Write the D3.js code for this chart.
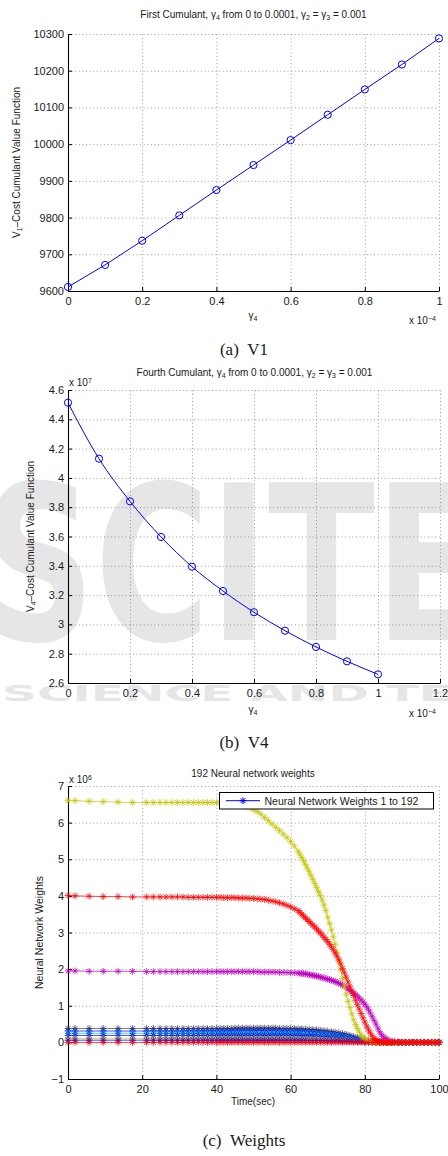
<!DOCTYPE html>
<html><head><meta charset="utf-8">
<script src="https://cdn.jsdelivr.net/npm/d3@7"></script>
<style>
body{margin:0;background:#fff;}
text{font-family:"Liberation Sans",Arial,sans-serif;fill:#1a1a1a;}
.cap{font-family:"Liberation Serif","Times New Roman",serif;}
</style></head><body>
<svg id="c" width="448" height="1156"></svg>
<script>
// ---------- DATA ----------
const gamma4 = [0,0.1,0.2,0.3,0.4,0.5,0.6,0.7,0.8,0.9,1.0];            // x 10^-4
const v1Values = [9611,9671,9737,9806,9875,9943,10011,10080,10149,10217,10288];
const v4Values = [4.513,4.131,3.84,3.597,3.394,3.228,3.083,2.957,2.846,2.748,2.659]; // x 10^7
const v1XTicks = [0,0.2,0.4,0.6,0.8,1];
const v1YTicks = [9600,9700,9800,9900,10000,10100,10200,10300];
const v4XTicks = [0,0.2,0.4,0.6,0.8,1,1.2];
const v4YTicks = [2.6,2.8,3,3.2,3.4,3.6,3.8,4,4.2,4.4,4.6];
const wXTicks = [0,20,40,60,80,100];
const wYTicks = [-1,0,1,2,3,4,5,6,7];

const timeFine = [0,1.9,5.7,9.5,13.5,17.4,21.2,23,24.8,26.4,28,29.5,31,32.4,33.8,35.1,36.4,37.6,38.8,
40,41,42,43,44,45,46,47,48,49,50,51,52,53,54,55,56,57,58,59,60,61,
62,62.5,63,63.5,64,64.5,65,65.5,66,66.5,67,67.5,68,68.5,69,69.5,70,70.5,71,71.5,72,72.5,73,73.5,74,74.5,75,75.5,76,76.5,77,77.5,78,78.5,79,79.5,80,80.5,81,81.5,82,82.5,83,83.5,84,84.5,85,85.5,86,86.5,87,87.5,88,
89,90,91,92,93,94,95,96,97,98,99,100];
const timeCoarse = [0,1.9,5.7,9.5,13.5,17.4,21.2,23,24.8,26.4,28,29.5,31,32.4,33.8,35.1,36.4,37.6,38.8,
40,41,42,43,44,45,46,47,48,49,50,51,52,53,54,55,56,57,58,59,
60,61,62,63,64,65,66,67,68,69,70,71,72,73,74,75,76,77,78,79,80,81,82,83,84,85,
86,87,88,89,90,91,92,93,94,95,96,97,98,99,100];

// large weights (x 10^6), on timeFine
const wYellow = [6.60,6.60,6.58,6.57,6.56,6.55,6.55,6.55,6.55,6.55,6.55,6.55,6.55,6.55,6.55,6.55,6.55,6.55,6.55,
6.55,6.55,6.55,6.54,6.54,6.53,6.51,6.49,6.45,6.41,6.36,6.30,6.23,6.14,6.05,5.96,5.87,5.78,5.69,5.59,5.48,5.36,
5.22,5.14,5.05,4.96,4.86,4.76,4.66,4.56,4.45,4.34,4.23,4.12,4.01,3.89,3.75,3.60,3.42,3.25,3.07,2.88,2.68,2.46,2.22,1.98,1.74,1.52,1.31,1.12,0.95,0.78,0.62,0.49,0.38,0.28,0.20,0.14,0.09,0.06,0.04,0.02,0.01,0.01,0,0,0,0,0,0,0,0,0,0,0,
0,0,0,0,0,0,0,0,0,0,0,0];
const wRed = [4.01,4.00,3.99,3.98,3.98,3.97,3.97,3.97,3.97,3.97,3.97,3.97,3.97,3.96,3.96,3.96,3.96,3.96,3.96,
3.96,3.96,3.95,3.95,3.95,3.95,3.94,3.94,3.94,3.93,3.93,3.92,3.91,3.90,3.88,3.86,3.84,3.81,3.78,3.74,3.70,3.65,
3.60,3.55,3.50,3.45,3.40,3.35,3.30,3.25,3.20,3.15,
3.10,3.04,2.99,2.93,2.87,2.81,2.75,2.68,2.61,2.53,
2.44,2.35,2.25,2.14,2.02,1.90,1.78,1.65,1.53,1.40,
1.28,1.15,1.03,0.91,0.79,0.67,0.55,0.44,0.34,0.25,
0.17,0.11,0.07,0.04,0.02,0.01,0,0,0,0,0,0,0,
0,0,0,0,0,0,0,0,0,0,0,0];
const wMagenta = [1.95,1.95,1.94,1.94,1.94,1.94,1.93,1.93,1.93,1.93,1.93,1.93,1.93,1.93,1.93,1.93,1.93,1.93,1.93,
1.93,1.93,1.93,1.93,1.93,1.93,1.93,1.93,1.93,1.93,1.93,1.93,1.92,1.92,1.92,1.92,1.92,1.91,1.91,1.91,1.90,1.90,
1.89,1.89,1.88,1.88,1.87,1.86,1.85,1.84,1.83,1.82,1.81,1.80,1.78,1.77,1.76,1.74,1.73,1.71,1.70,1.68,
1.66,1.64,1.62,1.59,1.56,1.53,1.50,1.46,1.42,1.38,1.34,1.30,1.26,1.21,1.16,1.10,1.04,0.97,0.89,0.80,
0.70,0.60,0.50,0.39,0.29,0.21,0.15,0.11,0.08,0.05,0.03,0.02,0.01,
0.01,0,0,0,0,0,0,0,0,0,0,0];

// small weights (x 10^6), on timeCoarse
const wGrey = [0.38,0.38,0.38,0.38,0.38,0.38,0.38,0.38,0.38,0.38,0.38,0.38,0.38,0.38,0.38,0.38,0.38,0.38,0.38,
0.38,0.38,0.38,0.38,0.38,0.39,0.39,0.39,0.39,0.39,0.39,0.39,0.39,0.39,0.39,0.39,0.39,0.38,0.38,0.38,
0.38,0.38,0.37,0.37,0.36,0.36,0.35,0.34,0.33,0.32,0.31,0.29,0.28,0.26,0.24,0.22,0.19,0.16,0.13,0.10,0.07,0.05,0.03,0.02,0.01,0.01,
0,0,0,0,0,0,0,0,0,0,0,0,0,0,0];
const wBlue1 = [0.31,0.31,0.31,0.31,0.31,0.31,0.31,0.31,0.31,0.31,0.31,0.31,0.31,0.31,0.31,0.31,0.31,0.31,0.31,
0.31,0.31,0.31,0.31,0.31,0.32,0.32,0.32,0.32,0.32,0.32,0.32,0.32,0.32,0.32,0.32,0.32,0.31,0.31,0.31,
0.31,0.31,0.31,0.30,0.30,0.29,0.29,0.28,0.27,0.26,0.25,0.24,0.22,0.21,0.19,0.17,0.15,0.12,0.10,0.07,0.05,0.03,0.02,0.01,0.01,0,
0,0,0,0,0,0,0,0,0,0,0,0,0,0,0];
const wCyan = [0.25,0.25,0.25,0.25,0.25,0.25,0.25,0.25,0.25,0.25,0.25,0.25,0.25,0.25,0.25,0.25,0.25,0.25,0.25,
0.25,0.25,0.25,0.25,0.25,0.25,0.25,0.25,0.25,0.25,0.25,0.25,0.25,0.25,0.25,0.25,0.25,0.25,0.25,0.25,
0.25,0.25,0.25,0.24,0.24,0.23,0.23,0.22,0.22,0.21,0.20,0.19,0.18,0.17,0.15,0.14,0.12,0.10,0.08,0.06,0.04,0.03,0.02,0.01,0.01,0,
0,0,0,0,0,0,0,0,0,0,0,0,0,0,0];
const wBlue2 = [0.19,0.19,0.19,0.19,0.19,0.19,0.19,0.19,0.19,0.19,0.19,0.19,0.19,0.19,0.19,0.19,0.19,0.19,0.19,
0.19,0.19,0.19,0.19,0.19,0.19,0.19,0.19,0.19,0.19,0.19,0.19,0.19,0.19,0.19,0.19,0.19,0.19,0.19,0.19,
0.19,0.19,0.19,0.18,0.18,0.18,0.17,0.17,0.16,0.16,0.15,0.14,0.14,0.13,0.12,0.10,0.09,0.08,0.06,0.05,0.03,0.02,0.01,0.01,0,0,
0,0,0,0,0,0,0,0,0,0,0,0,0,0,0];
const wYellowSmall = [0.11,0.11,0.11,0.11,0.11,0.11,0.11,0.11,0.11,0.11,0.11,0.11,0.11,0.11,0.11,0.11,0.11,0.11,0.11,
0.11,0.11,0.11,0.11,0.11,0.11,0.11,0.11,0.11,0.11,0.11,0.11,0.11,0.11,0.11,0.11,0.11,0.11,0.11,0.11,
0.11,0.11,0.10,0.10,0.10,0.10,0.09,0.09,0.09,0.08,0.08,0.08,0.07,0.07,0.06,0.06,0.05,0.04,0.03,0.03,0.02,0.01,0.01,0,0,0,
0,0,0,0,0,0,0,0,0,0,0,0,0,0,0];
const wBlue3 = [0.06,0.06,0.06,0.06,0.06,0.06,0.06,0.06,0.06,0.06,0.06,0.06,0.06,0.06,0.06,0.06,0.06,0.06,0.06,
0.06,0.06,0.06,0.06,0.06,0.06,0.06,0.06,0.06,0.06,0.06,0.06,0.06,0.06,0.06,0.06,0.06,0.06,0.06,0.06,
0.06,0.06,0.06,0.06,0.06,0.05,0.05,0.05,0.05,0.05,0.04,0.04,0.04,0.04,0.03,0.03,0.03,0.02,0.02,0.02,0.01,0.01,0.01,0,0,0,
0,0,0,0,0,0,0,0,0,0,0,0,0,0,0];
const wRedZero = [0,0,0,0,0,0,0,0,0,0,0,0,0,0,0,0,0,0,0,
0,0,0,0,0,0,0,0,0,0,0,0,0,0,0,0,0,0,0,0,
0,0,0,0,0,0,0,0,0,0,0,0,0,0,0,0,0,0,0,0,0,0,0,0,0,0,
0,0,0,0,0,0,0,0,0,0,0,0,0,0,0];

const weightSeries = [
  {t: timeCoarse, v: wGrey, color: "#454545"},
  {t: timeCoarse, v: wBlue1, color: "#0000ff"},
  {t: timeCoarse, v: wCyan, color: "#00bfbf"},
  {t: timeCoarse, v: wBlue2, color: "#0000ff"},
  {t: timeCoarse, v: wYellowSmall, color: "#c4c400"},
  {t: timeCoarse, v: wBlue3, color: "#0000ff"},
  {t: timeFine, v: wMagenta, color: "#bf00bf"},
  {t: timeFine, v: wYellow, color: "#c4c400"},
  {t: timeFine, v: wRed, color: "#ff0000"},
  {t: timeCoarse, v: wRedZero, color: "#ff0000"}
];

// ---------- DRAW ----------
const svg = d3.select("#c");
const fmt = d3.format("~g");

// watermark (publisher logo behind panel b)
const wm = svg.append("g");
wm.append("text").text("SCITE").attr("x",-18).attr("y",640)
  .style("font-family","DejaVu Sans").style("font-weight","bold").style("font-size","215px")
  .style("fill","#e6e6e6").attr("textLength",500).attr("lengthAdjust","spacingAndGlyphs");
wm.append("text").text("SCIENCE AND TE").attr("x",2).attr("y",701)
  .style("font-family","DejaVu Sans").style("font-weight","bold").style("font-size","22px")
  .style("fill","#e6e6e6").attr("textLength",450).attr("lengthAdjust","spacingAndGlyphs");

function starPath(r){const k=r*0.72;return `M${-r},0L${r},0M0,${-r}L0,${r}M${-k},${-k}L${k},${k}M${-k},${k}L${k},${-k}`;}

function panel(o){
  const g = svg.append("g");
  const x = d3.scaleLinear().domain(o.xd).range([o.x0,o.x1]);
  const y = d3.scaleLinear().domain(o.yd).range([o.y1,o.y0]);
  const gridStyle = s => s.selectAll("line").attr("stroke","#707070").attr("stroke-width",0.7).attr("stroke-dasharray","1,2.6");
  const gx = g.append("g").attr("transform",`translate(0,${o.y1})`)
    .call(d3.axisBottom(x).tickValues(o.xt.filter(d=>d!==o.xd[0])).tickSize(-(o.y1-o.y0)).tickFormat(""));
  gx.select(".domain").remove(); gridStyle(gx);
  const gy = g.append("g").attr("transform",`translate(${o.x0},0)`)
    .call(d3.axisLeft(y).tickValues(o.yt.filter(d=>d!==o.yd[0])).tickSize(-(o.x1-o.x0)).tickFormat(""));
  gy.select(".domain").remove(); gridStyle(gy);
  const ax = g.append("g").attr("transform",`translate(0,${o.y1})`)
    .call(d3.axisBottom(x).tickValues(o.xt).tickFormat(fmt).tickSizeInner(-4).tickSizeOuter(0).tickPadding(6));
  const ay = g.append("g").attr("transform",`translate(${o.x0},0)`)
    .call(d3.axisLeft(y).tickValues(o.yt).tickFormat(fmt).tickSizeInner(-4).tickSizeOuter(0).tickPadding(4));
  [ax,ay].forEach(a=>{
    a.select(".domain").attr("stroke","#000").attr("stroke-width",1.1);
    a.selectAll(".tick line").attr("stroke","#000");
    a.selectAll(".tick text").style("font-family","Liberation Sans, Arial, sans-serif").style("font-size","11px").attr("fill","#1a1a1a");
  });
  return {g,x,y};
}

function sub(textSel, parts){
  parts.forEach(p=>{
    const ts = textSel.append("tspan").text(p[0]);
    if(p[1]==="sub") ts.attr("baseline-shift","-30%").style("font-size","7px");
    if(p[1]==="sup") ts.attr("baseline-shift","45%").style("font-size","7px");
  });
}

// ---- Panel 1 ----
const p1 = panel({xd:[0,1],yd:[9600,10300],x0:68,x1:439,y0:34,y1:291,xt:v1XTicks,yt:v1YTicks});
p1.g.append("path").datum(gamma4.map((d,i)=>[d,v1Values[i]]))
  .attr("d",d3.line().x(d=>p1.x(d[0])).y(d=>p1.y(d[1]))).attr("fill","none").attr("stroke","#0000ff").attr("stroke-width",1);
p1.g.selectAll("circle.m").data(gamma4.map((d,i)=>[d,v1Values[i]])).join("circle")
  .attr("cx",d=>p1.x(d[0])).attr("cy",d=>p1.y(d[1])).attr("r",3.6).attr("fill","none").attr("stroke","#0000ff").attr("stroke-width",1);
sub(svg.append("text").attr("x",253.5).attr("y",18).attr("text-anchor","middle").style("font-size","10px"),
  [["First Cumulant, γ"],["4","sub"],[" from 0 to 0.0001, γ"],["2","sub"],[" = γ"],["3","sub"],[" = 0.001"]]);
sub(svg.append("text").attr("transform","translate(20,162.5) rotate(-90)").attr("text-anchor","middle").style("font-size","10px"),
  [["V"],["1","sub"],["–Cost Cumulant Value Function"]]);
sub(svg.append("text").attr("x",253).attr("y",319).attr("text-anchor","middle").style("font-size","10px"),[["γ"],["4","sub"]]);
sub(svg.append("text").attr("x",409).attr("y",324).style("font-size","10px"),[["x 10"],["−4","sup"]]);
svg.append("text").attr("class","cap").attr("x",244).attr("y",355).attr("text-anchor","middle").style("font-size","17px").text("(a)\u00A0\u00A0V1");

// ---- Panel 2 ----
const p2 = panel({xd:[0,1.2],yd:[2.6,4.6],x0:68,x1:440,y0:390,y1:683,xt:v4XTicks,yt:v4YTicks});
p2.g.append("path").datum(gamma4.map((d,i)=>[d,v4Values[i]]))
  .attr("d",d3.line().curve(d3.curveMonotoneX).x(d=>p2.x(d[0])).y(d=>p2.y(d[1]))).attr("fill","none").attr("stroke","#0000ff").attr("stroke-width",1);
p2.g.selectAll("circle.m").data(gamma4.map((d,i)=>[d,v4Values[i]])).join("circle")
  .attr("cx",d=>p2.x(d[0])).attr("cy",d=>p2.y(d[1])).attr("r",3.6).attr("fill","none").attr("stroke","#0000ff").attr("stroke-width",1);
sub(svg.append("text").attr("x",254.5).attr("y",376).attr("text-anchor","middle").style("font-size","10px"),
  [["Fourth Cumulant, γ"],["4","sub"],[" from 0 to 0.0001, γ"],["2","sub"],[" = γ"],["3","sub"],[" = 0.001"]]);
sub(svg.append("text").attr("x",69).attr("y",386).style("font-size","10px"),[["x 10"],["7","sup"]]);
sub(svg.append("text").attr("transform","translate(34,536.5) rotate(-90)").attr("text-anchor","middle").style("font-size","10px"),
  [["V"],["4","sub"],["–Cost Cumulant Value Function"]]);
sub(svg.append("text").attr("x",253).attr("y",713).attr("text-anchor","middle").style("font-size","10px"),[["γ"],["4","sub"]]);
sub(svg.append("text").attr("x",409).attr("y",717).style("font-size","10px"),[["x 10"],["−4","sup"]]);
svg.append("text").attr("class","cap").attr("x",244).attr("y",748).attr("text-anchor","middle").style("font-size","17px").text("(b)\u00A0\u00A0V4");

// ---- Panel 3 ----
const p3 = panel({xd:[0,100],yd:[-1,7],x0:68,x1:439,y0:786,y1:1079,xt:wXTicks,yt:wYTicks});
svg.append("defs").append("clipPath").attr("id","cp3").append("rect").attr("x",60).attr("y",780).attr("width",386).attr("height",300);
const star = starPath(3.4);
const lg = p3.g.append("g").attr("clip-path","url(#cp3)");
weightSeries.forEach(s=>{
  const pts = s.t.map((t,i)=>[t,s.v[i]]).filter(d=>d[1]!==undefined);
  lg.append("path").datum(pts).attr("d",d3.line().x(d=>p3.x(d[0])).y(d=>p3.y(d[1])))
    .attr("fill","none").attr("stroke",s.color).attr("stroke-width",0.7);
  lg.append("g").selectAll("path").data(pts).join("path")
    .attr("transform",d=>`translate(${p3.x(d[0])},${p3.y(d[1])})`).attr("d",star)
    .attr("fill","none").attr("stroke",s.color).attr("stroke-width",0.9).attr("stroke-opacity",0.85);
});
svg.append("text").attr("x",253).attr("y",777).attr("text-anchor","middle").style("font-size","10px").text("192 Neural network weights");
sub(svg.append("text").attr("x",69).attr("y",783).style("font-size","10px"),[["x 10"],["6","sup"]]);
svg.append("text").attr("transform","translate(43,932.5) rotate(-90)").attr("text-anchor","middle").style("font-size","10.5px").text("Neural Network Weights");
svg.append("text").attr("x",253).attr("y",1105).attr("text-anchor","middle").style("font-size","10px").text("Time(sec)");
svg.append("text").attr("class","cap").attr("x",244).attr("y",1146).attr("text-anchor","middle").style("font-size","17px").text("(c)\u00A0\u00A0Weights");
// legend
const leg = svg.append("g");
leg.append("rect").attr("x",219.5).attr("y",792.5).attr("width",214).attr("height",16.5).attr("fill","#fff").attr("stroke","#000").attr("stroke-width",1);
leg.append("line").attr("x1",226).attr("x2",260).attr("y1",800.7).attr("y2",800.7).attr("stroke","#0000ff").attr("stroke-width",1);
leg.append("path").attr("transform","translate(243,800.7)").attr("d",star).attr("stroke","#0000ff").attr("fill","none").attr("stroke-width",1);
leg.append("text").attr("x",264.5).attr("y",804.5).style("font-size","10.5px").text("Neural Network Weights 1 to 192");
</script></body></html>
